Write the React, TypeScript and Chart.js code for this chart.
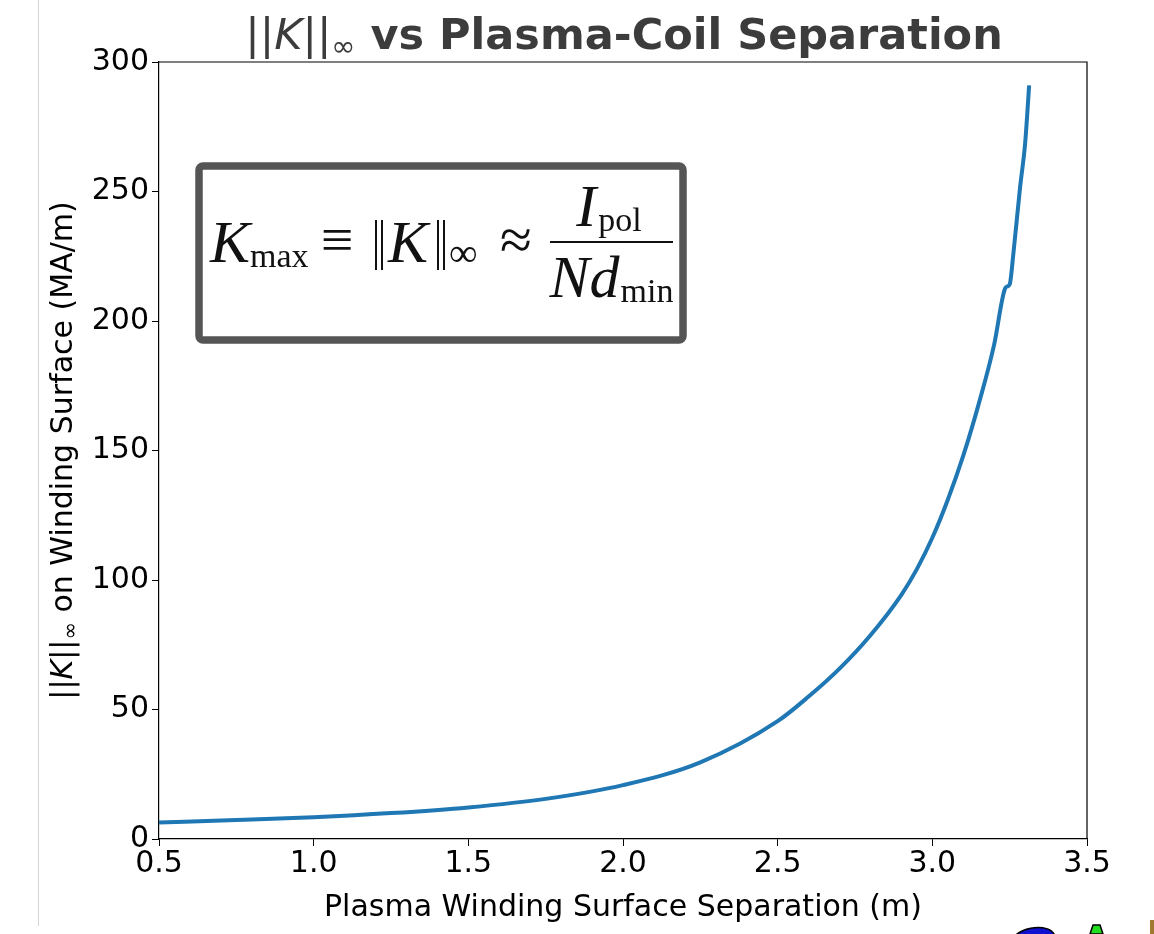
import { useEffect, useRef } from "react";
import { Chart, registerables } from "chart.js";

Chart.register(...registerables);

// Plasma winding surface separation (m)
const separation = [
  0.5, 0.75, 1.0, 1.25, 1.5, 1.75, 2.0, 2.25, 2.5, 2.6, 2.7, 2.8, 2.9, 2.95,
  3.0, 3.05, 3.1, 3.15, 3.2, 3.235, 3.245, 3.251, 3.262, 3.284, 3.3, 3.313,
];
// ||K||_inf on winding surface (MA/m)
const kMax = [
  6.4, 7.3, 8.4, 10.0, 12.2, 15.5, 20.8, 29.6, 45.5, 55, 65.8, 78.7, 94.3,
  104.2, 116.3, 131, 148, 168, 191, 212.5, 213.5, 214.5, 226, 252, 268.6, 291,
];

const xMin = 0.5;
const xMax = 3.5;
const xStep = 0.5;
const yMin = 0;
const yMax = 300;
const yStep = 50;

const titleText = " vs Plasma-Coil Separation";
const yLabelText = " on Winding Surface (MA/m)";
const xLabelText = "Plasma Winding Surface Separation (m)";

type Part = { t: string; f: string; dy?: number };

function drawParts(ctx: CanvasRenderingContext2D, parts: Part[], x: number, y: number) {
  let cx = x;
  for (const p of parts) {
    ctx.font = p.f;
    ctx.fillText(p.t, cx, y + (p.dy || 0));
    cx += ctx.measureText(p.t).width;
  }
  return cx;
}
function measureParts(ctx: CanvasRenderingContext2D, parts: Part[]) {
  let w = 0;
  for (const p of parts) {
    ctx.font = p.f;
    w += ctx.measureText(p.t).width;
  }
  return w;
}

const decor = {
  id: "decor",
  afterDraw(chart: any) {
    const ctx: CanvasRenderingContext2D = chart.ctx;
    const ca = chart.chartArea;
    ctx.save();

    // top & right spines
    ctx.strokeStyle = "#000";
    ctx.lineWidth = 1.2;
    ctx.beginPath();
    ctx.moveTo(ca.left, ca.top);
    ctx.lineTo(ca.right, ca.top);
    ctx.lineTo(ca.right, ca.bottom);
    ctx.stroke();

    // faint left page edge
    ctx.strokeStyle = "#d4d4d4";
    ctx.lineWidth = 1;
    ctx.beginPath();
    ctx.moveTo(38.5, 0);
    ctx.lineTo(38.5, 926);
    ctx.stroke();

    const cxMid = (ca.left + ca.right) / 2;

    // title
    const DJ = "'DejaVu Sans'";
    const tParts: Part[] = [
      { t: "||", f: `43px ${DJ}` },
      { t: "K", f: `oblique 43px ${DJ}` },
      { t: "||", f: `43px ${DJ}` },
      { t: "∞", f: `29px ${DJ}`, dy: 7 },
      { t: titleText, f: `bold 43px ${DJ}` },
    ];
    ctx.fillStyle = "#3c3c3c";
    ctx.textBaseline = "alphabetic";
    ctx.textAlign = "left";
    const tw = measureParts(ctx, tParts);
    drawParts(ctx, tParts, cxMid - tw / 2 + 1, 49);

    // x label
    ctx.fillStyle = "#000";
    ctx.font = `30px ${DJ}`;
    const xw = ctx.measureText(xLabelText).width;
    ctx.fillText(xLabelText, cxMid - xw / 2, 916);

    // y label (rotated)
    const yParts: Part[] = [
      { t: "||", f: `30px ${DJ}` },
      { t: "K", f: `oblique 30px ${DJ}` },
      { t: "||", f: `30px ${DJ}` },
      { t: "∞", f: `21px ${DJ}`, dy: 5 },
      { t: yLabelText, f: `30px ${DJ}` },
    ];
    const yw = measureParts(ctx, yParts);
    const cyMid = (ca.top + ca.bottom) / 2;
    ctx.save();
    ctx.translate(72, cyMid);
    ctx.rotate(-Math.PI / 2);
    drawParts(ctx, yParts, -yw / 2, 0);
    ctx.restore();

    // formula box
    ctx.fillStyle = "#fff";
    ctx.strokeStyle = "#555555";
    ctx.lineWidth = 7.5;
    ctx.beginPath();
    (ctx as any).roundRect(199, 166, 484, 174, 4);
    ctx.fill();
    ctx.stroke();

    const SF = "'Liberation Serif'";
    const ink = "#111";
    ctx.fillStyle = ink;
    ctx.strokeStyle = ink;
    const base = 262;
    // K_max
    ctx.font = `italic 60px ${SF}`;
    ctx.fillText("K", 210, base);
    ctx.font = `34px ${SF}`;
    ctx.fillText("max", 250, base + 5);
    // ≡
    ctx.font = `58px ${SF}`;
    ctx.textAlign = "center";
    ctx.fillText("≡", 337, base - 3);
    ctx.textAlign = "left";
    // ‖K‖∞
    ctx.lineWidth = 2;
    ctx.beginPath();
    for (const bx of [376, 382, 438, 444]) {
      ctx.moveTo(bx, 220);
      ctx.lineTo(bx, 270);
    }
    ctx.stroke();
    ctx.font = `italic 60px ${SF}`;
    ctx.fillText("K", 388, base);
    ctx.font = `40px ${SF}`;
    ctx.fillText("∞", 449, base + 4);
    // ≈
    ctx.font = `58px ${SF}`;
    ctx.textAlign = "center";
    ctx.fillText("≈", 516, base - 3);
    ctx.textAlign = "left";
    // fraction
    ctx.lineWidth = 2;
    ctx.beginPath();
    ctx.moveTo(550, 242);
    ctx.lineTo(673, 242);
    ctx.stroke();
    // numerator
    ctx.font = `italic 60px ${SF}`;
    const iW = ctx.measureText("I").width;
    ctx.font = `34px ${SF}`;
    const polW = ctx.measureText("pol").width;
    let nx = 608 - (iW + polW) / 2;
    ctx.font = `italic 60px ${SF}`;
    ctx.fillText("I", nx, 226);
    nx += iW + 2;
    ctx.font = `34px ${SF}`;
    ctx.fillText("pol", nx, 231);
    // denominator
    ctx.font = `italic 60px ${SF}`;
    const ndW = ctx.measureText("Nd").width;
    ctx.font = `34px ${SF}`;
    const minW = ctx.measureText("min").width;
    let dx = 611 - (ndW + minW) / 2;
    ctx.font = `italic 60px ${SF}`;
    ctx.fillText("Nd", dx, 297);
    dx += ndW + 1;
    ctx.font = `34px ${SF}`;
    ctx.fillText("min", dx, 302);

    // clipped graphics at the bottom-right edge
    ctx.fillStyle = "#1010d0";
    ctx.strokeStyle = "#000";
    ctx.lineWidth = 1.5;
    ctx.beginPath();
    ctx.ellipse(1033, 940, 22, 12, -0.2, 0, Math.PI * 2);
    ctx.fill();
    ctx.stroke();
    ctx.fillStyle = "#22dd22";
    ctx.beginPath();
    ctx.moveTo(1090, 934);
    ctx.lineTo(1093, 925);
    ctx.lineTo(1100, 925);
    ctx.lineTo(1103, 934);
    ctx.closePath();
    ctx.fill();
    ctx.stroke();
    ctx.fillStyle = "#a07830";
    ctx.beginPath();
    ctx.rect(1150, 920, 6, 14);
    ctx.fill();

    ctx.restore();
  },
};

export default function App() {
  const ref = useRef<HTMLCanvasElement | null>(null);
  useEffect(() => {
    if (!ref.current) return;
    const tickFont = { family: "'DejaVu Sans'", size: 30 };
    const chart = new Chart(ref.current, {
      type: "line",
      data: {
        datasets: [
          {
            data: separation.map((s, i) => ({ x: s, y: kMax[i] })),
            borderColor: "#1f77b4",
            borderWidth: 4,
            pointRadius: 0,
            fill: false,
            cubicInterpolationMode: "monotone",
          },
        ],
      },
      options: {
        responsive: false,
        animation: false,
        layout: { padding: { left: 0, top: 62, right: 67, bottom: 0 } },
        plugins: { legend: { display: false }, tooltip: { enabled: false }, title: { display: false } },
        scales: {
          x: {
            type: "linear",
            min: xMin,
            max: xMax,
            ticks: {
              stepSize: xStep,
              font: tickFont,
              color: "#000",
              padding: 0,
              maxRotation: 0,
              callback: (v: any) => Number(v).toFixed(1),
            },
            grid: { drawOnChartArea: false, drawTicks: true, tickLength: 7, color: "#000" },
            border: { color: "#000", width: 1.2 },
            afterFit: (s: any) => {
              s.height = 95;
            },
          },
          y: {
            type: "linear",
            min: yMin,
            max: yMax,
            ticks: { stepSize: yStep, font: tickFont, color: "#000", padding: 3 },
            grid: { drawOnChartArea: false, drawTicks: true, tickLength: 7, color: "#000" },
            border: { color: "#000", width: 1.2 },
            afterFit: (s: any) => {
              s.width = 159;
            },
          },
        },
      },
      plugins: [decor],
    });
    return () => chart.destroy();
  }, []);
  return (
    <div style={{ position: "absolute", left: 0, top: 0, width: 1154, height: 934, background: "#fff" }}>
      <canvas ref={ref} width={1154} height={934} style={{ display: "block" }} />
    </div>
  );
}
